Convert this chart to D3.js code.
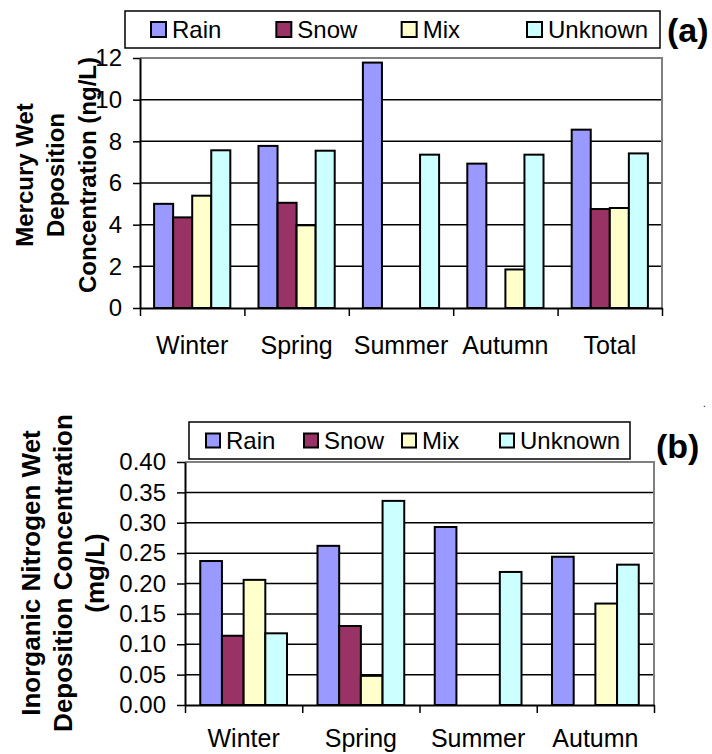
<!DOCTYPE html>
<html lang="en">
<head>
<meta charset="utf-8">
<title>Wet deposition by precipitation type</title>
<script src="https://cdn.jsdelivr.net/npm/d3@7"></script>
<style>
  body { margin: 0; background: #fff; }
  svg text { font-family: "Liberation Sans", Arial, sans-serif; fill: #000; }
  .tick text { font-size: 24px; }
  .xlab .tick text { font-size: 25px; }
  .ytitle { font-size: 24px; font-weight: bold; }
  .panel { font-size: 34px; font-weight: bold; }
  .legend text { font-size: 24px; }
</style>
</head>
<body>
<div class="chart"></div>
<script>
// series shared by both panels
var series = ["Rain", "Snow", "Mix", "Unknown"];
var colors = ["#9999ff", "#993366", "#ffffcc", "#ccffff"];

// (a) mercury, ng/L
var seasonsA = ["Winter", "Spring", "Summer", "Autumn", "Total"];
var rainA    = [5.0, 7.78, 11.78, 6.93, 8.56];
var snowA    = [4.35, 5.05, null, null, 4.75];
var mixA     = [5.39, 3.97, null, 1.85, 4.8];
var unknownA = [7.57, 7.55, 7.36, 7.36, 7.42];
var ticksA   = [0, 2, 4, 6, 8, 10, 12];

// (b) inorganic nitrogen, mg/L
var seasonsB = ["Winter", "Spring", "Summer", "Autumn"];
var rainB    = [0.237, 0.262, 0.293, 0.244];
var snowB    = [0.114, 0.130, null, null];
var mixB     = [0.206, 0.048, null, 0.167];
var unknownB = [0.118, 0.336, 0.219, 0.231];
var ticksB   = [0, 0.05, 0.10, 0.15, 0.20, 0.25, 0.30, 0.35, 0.40];

var w = 712, h = 754;

var svg = d3.select("div.chart").append("svg")
  .attr("width", w)
  .attr("height", h);

function drawChart(o) {
  var g = svg.append("g");

  var x0 = d3.scaleBand().domain(o.cats).range([o.left, o.right])
    .paddingInner(o.pad).paddingOuter(o.pad / 2);
  var x1 = d3.scaleBand().domain(series).range([0, x0.bandwidth()]);
  var y = d3.scaleLinear().domain([0, d3.max(o.ticks)]).range([o.bottom, o.top]);
  var edge = d3.scaleLinear().domain([0, o.cats.length]).range([o.left, o.right]);

  // gridlines
  g.selectAll("line.grid")
    .data(o.ticks.filter(function(t) { return t > 0 && t < d3.max(o.ticks); }))
    .enter().append("line")
    .attr("class", "grid")
    .attr("x1", o.left).attr("x2", o.right)
    .attr("y1", function(d) { return y(d); })
    .attr("y2", function(d) { return y(d); })
    .attr("stroke", "#000").attr("stroke-width", 1.5);

  // plot frame, top and right in gray
  g.append("path")
    .attr("d", "M" + o.left + "," + o.top + "H" + o.right + "V" + o.bottom)
    .attr("fill", "none").attr("stroke", "#808080").attr("stroke-width", 2);

  // bars
  var rows = [];
  o.cats.forEach(function(c, i) {
    o.values.forEach(function(vals, j) {
      if (vals[i] != null) rows.push({ cat: c, s: series[j], c: colors[j], v: vals[i] });
    });
  });
  g.selectAll("rect.bar")
    .data(rows)
    .enter().append("rect")
    .attr("class", "bar")
    .attr("x", function(d) { return x0(d.cat) + x1(d.s); })
    .attr("y", function(d) { return y(d.v); })
    .attr("width", x1.bandwidth())
    .attr("height", function(d) { return y(0) - y(d.v); })
    .attr("fill", function(d) { return d.c; })
    .attr("stroke", "#000").attr("stroke-width", 2);

  // y axis
  var yAxis = d3.axisLeft(y).tickValues(o.ticks).tickSize(o.tick).tickSizeOuter(0)
    .tickPadding(11).tickFormat(o.fmt);
  var ya = g.append("g").attr("transform", "translate(" + o.left + ",0)").call(yAxis);
  ya.select(".domain").attr("stroke", "#000").attr("stroke-width", 2);
  ya.selectAll(".tick line").attr("stroke-width", 1.5);
  ya.selectAll(".tick text").attr("font-size", null);

  // x axis: marks at category edges, labels at centres
  var xe = g.append("g").attr("transform", "translate(0," + o.bottom + ")")
    .call(d3.axisBottom(edge).tickValues(d3.range(o.cats.length + 1)).tickSize(8)
      .tickSizeOuter(0).tickFormat(""));
  xe.select(".domain").attr("stroke", "#000").attr("stroke-width", 2);
  xe.selectAll(".tick line").attr("stroke-width", 1.5);

  var xl = g.append("g").attr("class", "xlab").attr("transform", "translate(0," + o.bottom + ")")
    .call(d3.axisBottom(x0).tickSize(0).tickPadding(o.labPad));
  xl.select(".domain").remove();
  xl.selectAll(".tick text").attr("font-size", null);

  // y title, rotated
  o.title.forEach(function(t, i) {
    g.append("text")
      .attr("class", "ytitle")
      .attr("transform", "translate(" + o.titleX[i] + "," + o.titleY + ") rotate(-90)")
      .attr("text-anchor", "middle")
      .style("font-size", o.titleSize + "px")
      .text(t);
  });

  // legend
  var lg = g.append("g").attr("class", "legend");
  lg.append("rect")
    .attr("x", o.lg.x).attr("y", o.lg.y)
    .attr("width", o.lg.w).attr("height", o.lg.h)
    .attr("fill", "#fff").attr("stroke", "#000").attr("stroke-width", 1.5);
  var lx = d3.scalePoint().domain(series).range(o.lg.items);
  var item = lg.selectAll("g.item").data(series).enter().append("g")
    .attr("class", "item")
    .attr("transform", function(d) { return "translate(" + lx(d) + "," + (o.lg.y + o.lg.h / 2) + ")"; });
  item.append("rect")
    .attr("x", 0).attr("y", -o.lg.sq / 2)
    .attr("width", o.lg.sq).attr("height", o.lg.sq)
    .attr("fill", function(d, i) { return colors[i]; })
    .attr("stroke", "#000").attr("stroke-width", 2);
  item.append("text")
    .attr("x", o.lg.sq + 6)
    .attr("dy", "0.36em")
    .text(function(d) { return d; });

  // panel letter
  g.append("text")
    .attr("class", "panel")
    .attr("x", o.letterX).attr("y", o.letterY)
    .attr("dy", "0.36em")
    .text(o.letter);
}

drawChart({
  cats: seasonsA, values: [rainA, snowA, mixA, unknownA], ticks: ticksA,
  fmt: d3.format("d"),
  left: 140, right: 662, top: 58, bottom: 308, pad: 0.27, tick: 7, labPad: 28,
  title: ["Mercury Wet", "Deposition", "Concentration (ng/L)"],
  titleX: [33, 64, 96], titleY: 175, titleSize: 24,
  lg: { x: 125, y: 11, w: 535, h: 37, sq: 15, items: [151, 527] },
  letter: "(a)", letterX: 667, letterY: 30
});

drawChart({
  cats: seasonsB, values: [rainB, snowB, mixB, unknownB], ticks: ticksB,
  fmt: d3.format(".2f"),
  left: 185, right: 654, top: 462, bottom: 705, pad: 0.26, tick: 8, labPad: 24,
  title: ["Inorganic Nitrogen Wet", "Deposition Concentration", "(mg/L)"],
  titleX: [40, 72, 104], titleY: 573, titleSize: 26,
  lg: { x: 189, y: 422, w: 441, h: 37, sq: 14, items: [206, 500] },
  letter: "(b)", letterX: 656, letterY: 446
});

// stray full stop in the source figure
svg.append("text").attr("x", 703).attr("y", 407).style("font-size", "10px").text(".");
</script>
</body>
</html>
